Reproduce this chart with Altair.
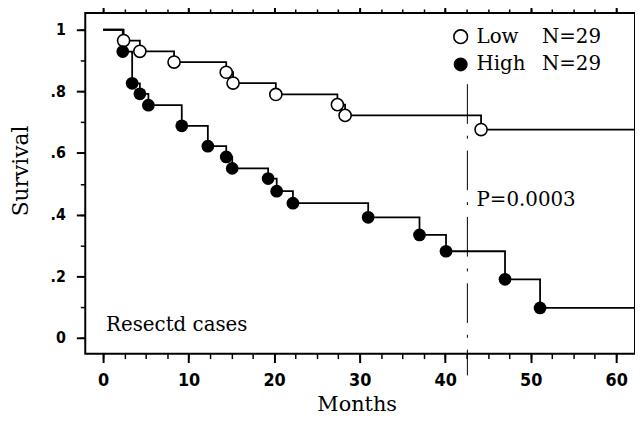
import altair as alt
import pandas as pd

# ---- data ----
low_times = [2.4, 4.3, 8.3, 14.4, 15.2, 20.2, 27.4, 28.3, 44.2]
low_surv = [0.965, 0.930, 0.895, 0.862, 0.827, 0.790, 0.757, 0.722, 0.676]

high_times = [2.3, 3.4, 4.3, 5.3, 9.2, 12.25, 14.4, 15.1, 19.3, 20.3, 22.2,
              31.0, 37.0, 40.1, 47.0, 51.1]
high_surv = [0.929, 0.826, 0.792, 0.755, 0.688, 0.622, 0.587, 0.550, 0.517,
             0.476, 0.437, 0.391, 0.334, 0.281, 0.190, 0.097]

groups = ["Low", "High"]
group_n = ["N=29", "N=29"]
p_text = "P=0.0003"
note_text = "Resectd cases"
cut_month = 42.6

x_major = [0, 10, 20, 30, 40, 50, 60]
x_minor = [i * 2.5 for i in range(25)]
y_major = [0, 0.2, 0.4, 0.6, 0.8, 1.0]
y_minor = [round(i * 0.1, 1) for i in range(11)]

X_DOMAIN = [-2.085, 62.2]
Y_DOMAIN = [-0.0514, 1.0547]

def curve(times, surv):
    xs = [0.0] + times + [X_DOMAIN[1]]
    ys = [1.0] + surv + [surv[-1]]
    return pd.DataFrame({"month": xs, "surv": ys})

low_line = curve(low_times, low_surv)
high_line = curve(high_times, high_surv)
low_pts = pd.DataFrame({"month": low_times, "surv": low_surv})
high_pts = pd.DataFrame({"month": high_times, "surv": high_surv})

SERIF = "DejaVu Serif"
NARROW = "'Liberation Sans Narrow', 'DejaVu Sans Condensed', 'DejaVu Sans', sans-serif"

xs = alt.Scale(domain=X_DOMAIN, nice=False, zero=False)
ys = alt.Scale(domain=Y_DOMAIN, nice=False, zero=False)

def no_lab(orient, values, size, width):
    return alt.Axis(orient=orient, values=values, tickSize=size, tickWidth=width,
                    tickColor="black", labels=False, title=None, grid=False,
                    domain=False)

# main axes on the Low step line
low_step = alt.Chart(low_line).mark_line(
    interpolate="step-after", color="black", strokeWidth=1.8, clip=True
).encode(
    x=alt.X("month:Q", scale=xs, axis=alt.Axis(
        orient="bottom", values=x_major, tickSize=9, tickWidth=2,
        tickColor="black", grid=False, domain=False, format="d",
        labelFont=NARROW, labelFontWeight="bold", labelFontSize=18,
        labelColor="black", labelPadding=9, labelBaseline="top",
        title="Months", titleFont=SERIF, titleFontSize=21,
        titleFontWeight="normal", titleColor="black",
        titleBaseline="alphabetic", titleY=57, titleX=274)),
    y=alt.Y("surv:Q", scale=ys, axis=alt.Axis(
        orient="left", values=y_major, tickSize=9, tickWidth=2,
        tickColor="black", grid=False, domain=False,
        labelExpr="datum.value == 0 ? '0' : datum.value == 1 ? '1' : substring(format(datum.value, '.1f'), 1)",
        labelFont=NARROW, labelFontWeight="bold", labelFontSize=16,
        labelColor="black", labelPadding=11,
        title="Survival", titleFont=SERIF, titleFontSize=22,
        titleFontWeight="normal", titleColor="black", titleAngle=270,
        titleX=-65, titleY=159, titleAlign="center", titleBaseline="middle")),
)

high_step = alt.Chart(high_line).mark_line(
    interpolate="step-after", color="black", strokeWidth=1.8, clip=True
).encode(
    x=alt.X("month:Q", scale=xs, axis=no_lab("bottom", x_minor, 5, 1.5)),
    y=alt.Y("surv:Q", scale=ys, axis=no_lab("left", y_minor, 5, 1.5)),
)

low_circ = alt.Chart(low_pts).mark_point(
    shape="circle", filled=True, fill="white", stroke="black",
    strokeWidth=1.6, size=150, opacity=1
).encode(
    x=alt.X("month:Q", scale=xs, axis=no_lab("top", x_major, 8, 2)),
    y=alt.Y("surv:Q", scale=ys, axis=no_lab("right", y_major, 8, 2)),
)

high_circ = alt.Chart(high_pts).mark_point(
    shape="circle", filled=True, color="black", size=165, opacity=1
).encode(
    x=alt.X("month:Q", scale=xs, axis=no_lab("top", x_minor, 4, 1.5)),
    y=alt.Y("surv:Q", scale=ys, axis=no_lab("right", y_minor, 4, 1.5)),
)

cut_df = pd.DataFrame({"month": [cut_month]})
cut_rule = alt.Chart(cut_df).mark_rule(
    color="black", strokeWidth=1, strokeDash=[40, 12, 3, 12], clip=False
).encode(
    x=alt.X("month:Q", scale=xs, axis=None),
    y=alt.value(72), y2=alt.value(366),
)

one = pd.DataFrame({"k": [0]})
layers = [low_step, high_step, low_circ, high_circ, cut_rule]

for i, (g, n) in enumerate(zip(groups, group_n)):
    yy = 24 + 28 * i
    if g == "Low":
        sym = alt.Chart(one).mark_point(shape="circle", filled=True, fill="white",
                                         stroke="black", strokeWidth=1.6, size=190,
                                         opacity=1)
    else:
        sym = alt.Chart(one).mark_point(shape="circle", filled=True, color="black",
                                         size=200, opacity=1)
    layers.append(sym.encode(x=alt.value(379), y=alt.value(yy)))
    layers.append(alt.Chart(one).mark_text(
        text=g, font=SERIF, fontSize=20, align="left", baseline="middle", color="black"
    ).encode(x=alt.value(395), y=alt.value(yy)))
    layers.append(alt.Chart(one).mark_text(
        text=n, font=SERIF, fontSize=20, align="left", baseline="middle", color="black"
    ).encode(x=alt.value(461), y=alt.value(yy)))

layers.append(alt.Chart(one).mark_text(
    text=p_text, font=SERIF, fontSize=20, align="left", baseline="middle", color="black"
).encode(x=alt.value(395), y=alt.value(189)))
layers.append(alt.Chart(one).mark_text(
    text=note_text, font=SERIF, fontSize=20, align="left", baseline="middle", color="black"
).encode(x=alt.value(21), y=alt.value(315)))

chart = alt.layer(*layers).resolve_axis(x="independent", y="independent").properties(
    width=555, height=344,
    autosize=alt.AutoSizeParams(type="none"),
    padding={"left": 78, "top": 3, "right": 0, "bottom": 60},
    background="white",
).configure_view(stroke="black", strokeWidth=2)

chart.save("out.html", embed_options={"renderer": "svg", "actions": False})
